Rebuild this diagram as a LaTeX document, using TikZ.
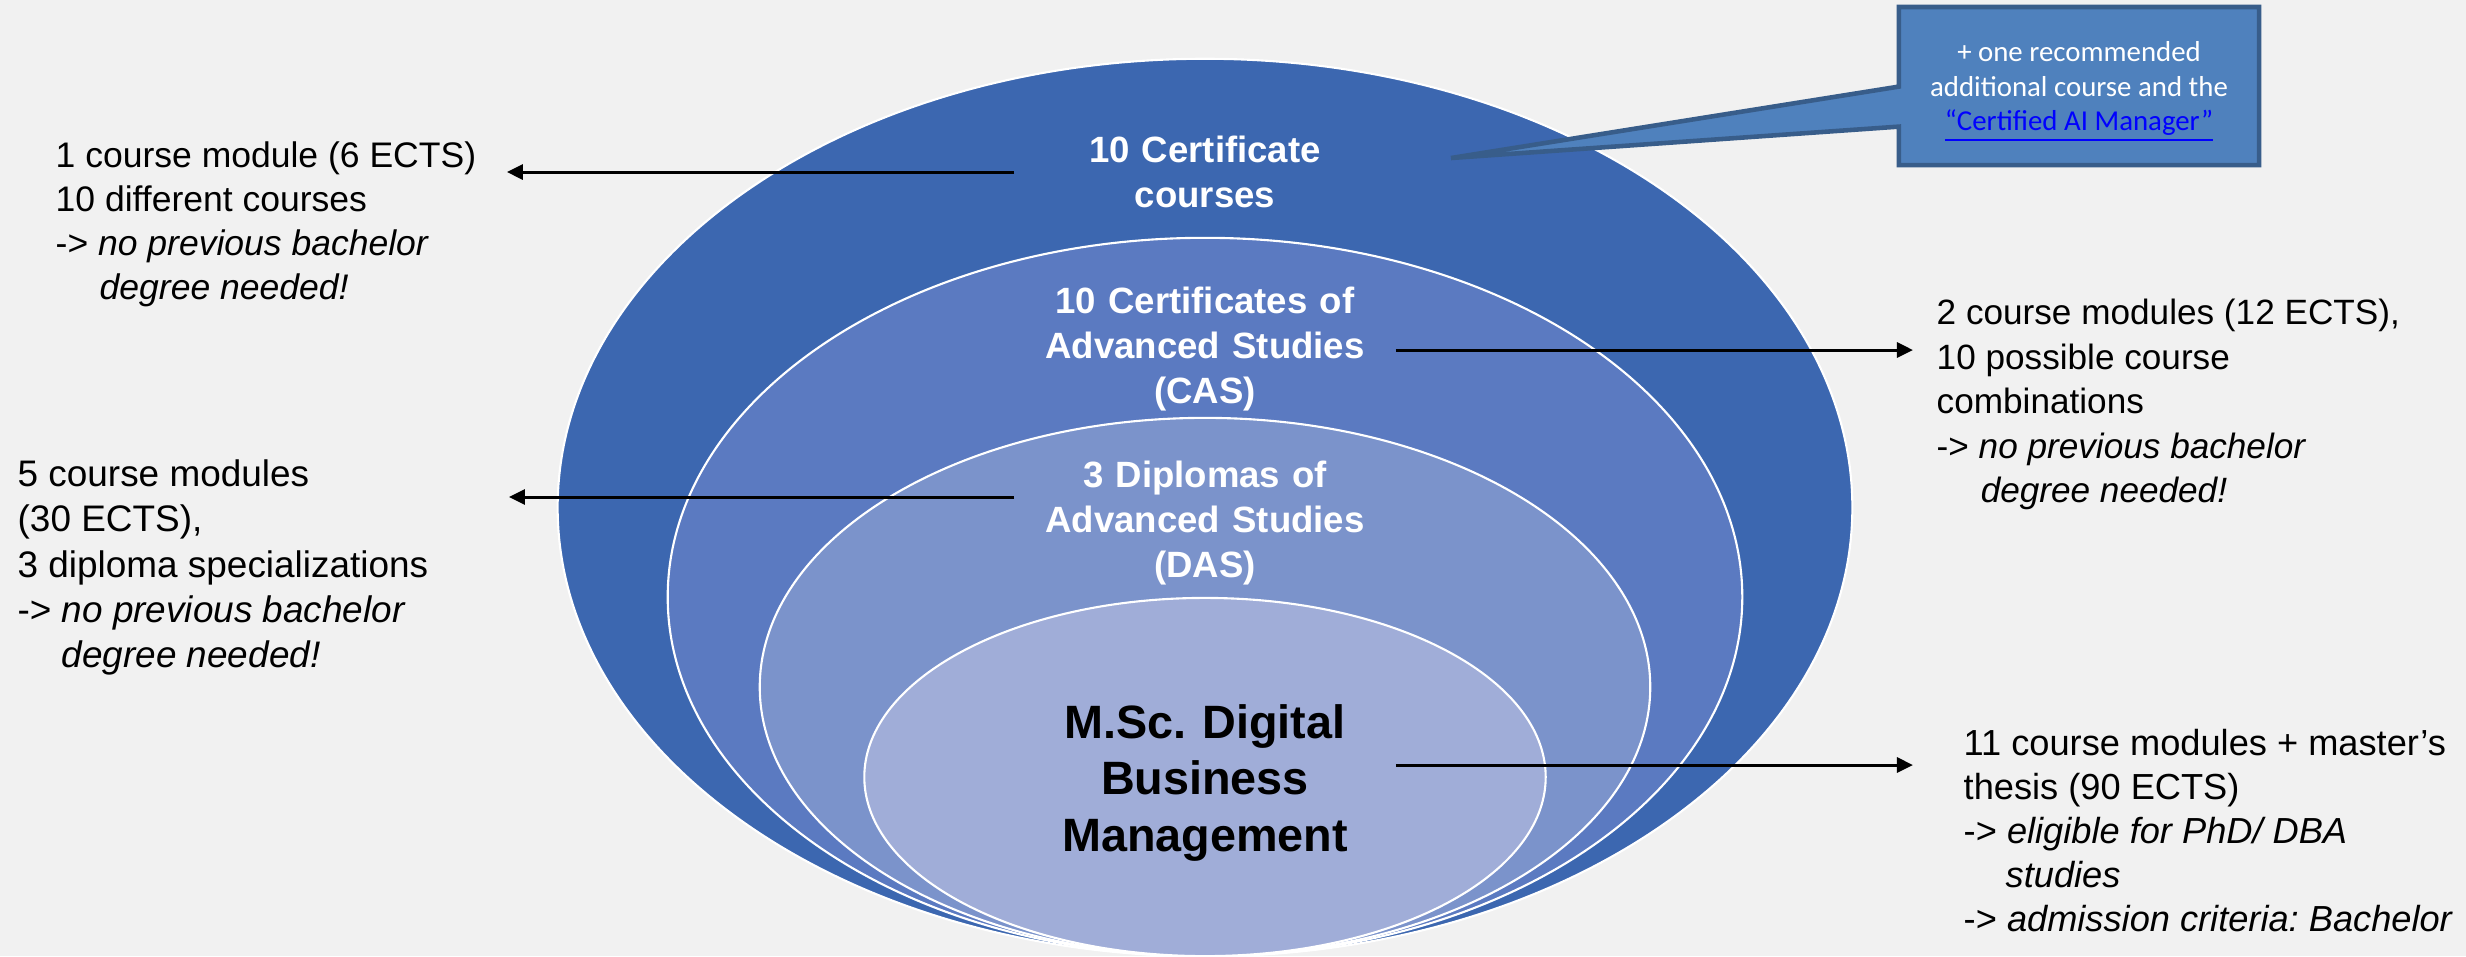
\documentclass[tikz,border=0pt]{standalone}
\usepackage{fontspec}
\setmainfont{Liberation Sans}
\newfontfamily\calibri{Carlito}
\usetikzlibrary{arrows.meta,shapes.callouts}
\definecolor{bg}{HTML}{F1F1F1}
\definecolor{ring1}{HTML}{3C67B0}
\definecolor{ring2}{HTML}{5B7AC1}
\definecolor{ring3}{HTML}{7B93CB}
\definecolor{ring4}{HTML}{A0ADD8}
\definecolor{boxfill}{HTML}{4F81BD}
\definecolor{boxline}{HTML}{385D8A}
\definecolor{link}{HTML}{0000FF}
\begin{document}
\frenchspacing
\begin{tikzpicture}[x=0.01cm, y=-0.01cm, >={Triangle[length=0.16cm,width=0.15cm]},
        ring/.style={draw=white, line width=0.6pt},
        lab/.style={text=white, font=\bfseries\fontsize{10.4}{12.9}\selectfont, align=center, anchor=base, text width=3.5cm, inner xsep=0.15cm, inner ysep=0pt},
        note/.style={align=left, anchor=north west, inner sep=0pt},
        arr/.style={->, line width=0.85pt}]
        \useasboundingbox[fill=bg] (0,0) rectangle (2466,956);

        \filldraw[ring, fill=ring1] (1205,507.5) ellipse [x radius=6.47cm, y radius=4.485cm];
        \filldraw[ring, fill=ring2] (1205,597) ellipse [x radius=5.37cm, y radius=3.59cm];
        \filldraw[ring, fill=ring3] (1205,687) ellipse [x radius=4.45cm, y radius=2.69cm];
        \filldraw[ring, fill=ring4] (1205,777) ellipse [x radius=3.405cm, y radius=1.79cm];

        \node[lab] (cert) at (1205,162) {10 Certificate\\courses};
        \node[lab] (cas) at (1205,313) {10 Certificates of\\Advanced Studies\\(CAS)};
        \node[lab] (das) at (1205,487) {3 Diplomas of\\Advanced Studies\\(DAS)};
        \node[lab, text=black, font=\bfseries\fontsize{13.3}{16.2}\selectfont] (msc) at (1205,738) {M.Sc. Digital\\Business\\Management};

        \node[note, font=\fontsize{10.1}{12.5}\selectfont] (certnote) at (55,141.5) {1 course module (6 ECTS)\\10 different courses\\-> \textit{no previous bachelor}\\\hspace*{0.44cm}\textit{degree needed!}};
        \node[note, font=\fontsize{10.5}{12.8}\selectfont] (dasnote) at (17,459.5) {5 course modules\\(30 ECTS),\\3 diploma specializations\\-> \textit{no previous bachelor}\\\hspace*{0.44cm}\textit{degree needed!}};
        \node[note, font=\fontsize{10}{12.65}\selectfont] (casnote) at (1936,298.5) {2 course modules (12 ECTS),\\10 possible course\\combinations\\-> \textit{no previous bachelor}\\\hspace*{0.44cm}\textit{degree needed!}};
        \node[note, font=\fontsize{10.3}{12.5}\selectfont] (mscnote) at (1963,729) {11 course modules + master’s\\thesis (90 ECTS)\\-> \textit{eligible for PhD/ DBA}\\\hspace*{0.42cm}\textit{studies}\\-> \textit{admission criteria: Bachelor}};

        \draw[arr] ([yshift=-0.10cm]cert.base west) -- ([xshift=0.30cm, yshift=-0.10cm]cert.base west -| certnote.east);
        \draw[arr] ([yshift=-0.37cm]cas.base east) -- ([xshift=-0.23cm, yshift=-0.37cm]cas.base east -| casnote.west);
        \draw[arr] ([yshift=-0.10cm]das.base west) -- ([xshift=0.80cm, yshift=-0.10cm]das.base west -| dasnote.east);
        \draw[arr] ([yshift=-0.27cm]msc.base east) -- ([xshift=-0.50cm, yshift=-0.27cm]msc.base east -| mscnote.west);

        \node[rectangle callout, callout absolute pointer={(1451,158)}, callout pointer width=0.4cm,
            fill=boxfill, draw=boxline, line width=1.3pt, minimum width=3.6cm, minimum height=1.58cm,
            text=white, align=center, text depth=0pt, font=\calibri\fontsize{8.2}{9.7}\selectfont] (ai) at (2079,86)
            {+ one recommended\\additional course and the\\\textcolor{link}{\underline{“Certified AI Manager”}}};
\end{tikzpicture}
\end{document}
